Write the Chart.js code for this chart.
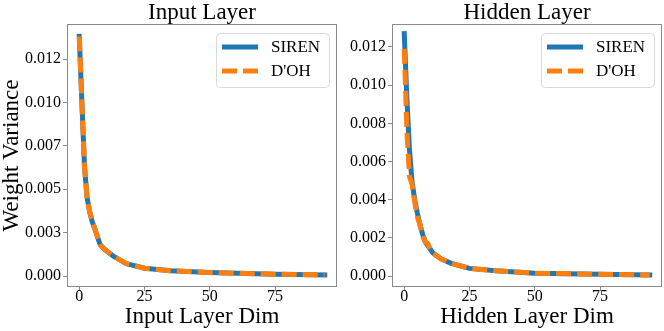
<!DOCTYPE html>
<html lang="en">
<head>
  <meta charset="UTF-8" />
  <title>Weight Variance per Layer</title>
  <script src="https://cdn.jsdelivr.net/npm/chart.js"></script>
  <style>
    body { margin: 0; background: #fff; }
    canvas { position: absolute; top: 0; }
  </style>
</head>
<body>
  <canvas id="inputChart" width="340" height="331" style="left:0"></canvas>
  <canvas id="hiddenChart" width="324" height="331" style="left:340px"></canvas>

  <script>
    // values
    const inputDims   = [0, 1, 2, 3, 4, 5, 6, 8, 10, 13, 18, 25, 35, 50, 75, 94];
    const inputSiren  = [0.0138, 0.0100, 0.0063, 0.0045, 0.0037, 0.0031, 0.0027, 0.0018, 0.0015, 0.00115, 0.00072, 0.00045, 0.00030, 0.00020, 0.00011, 0.00007];
    const inputDoh    = [0.0138, 0.0100, 0.0063, 0.0045, 0.0037, 0.0031, 0.0027, 0.0018, 0.0015, 0.00115, 0.00072, 0.00045, 0.00030, 0.00020, 0.00011, 0.00007];

    const hiddenDims  = [0, 1, 2, 3, 4, 5, 6, 7, 8, 9, 10, 11, 14, 18, 25, 35, 50, 75, 94];
    const hiddenSiren = [0.0127, 0.0093, 0.0066, 0.0049, 0.0040, 0.0033, 0.0027, 0.0022, 0.0018, 0.0016, 0.0014, 0.0012, 0.0009, 0.00066, 0.00040, 0.00027, 0.00015, 0.00009, 0.00005];
    const hiddenDoh   = [0.0119, 0.0076, 0.0052, 0.0048, 0.0039, 0.0031, 0.0027, 0.0021, 0.0018, 0.0017, 0.0014, 0.0012, 0.0009, 0.00066, 0.00040, 0.00027, 0.00015, 0.00009, 0.00005];

    const xTicks = [0, 25, 50, 75];
    const inputYTicks  = [0, 0.0025, 0.005, 0.0075, 0.01, 0.0125];
    const inputYLabels = ['0.000', '0.003', '0.005', '0.007', '0.010', '0.012'];
    const hiddenYTicks  = [0, 0.002, 0.004, 0.006, 0.008, 0.010, 0.012];
    const hiddenYLabels = ['0.000', '0.002', '0.004', '0.006', '0.008', '0.010', '0.012'];

    const serif = 'Liberation Serif';
    const frameColor = '#8a8a8a';

    // box round the plot, legend and title drawn on top of the lines
    const decorations = {
      id: 'decorations',
      afterDraw(chart, args, opts) {
        const { ctx, chartArea: a } = chart;
        ctx.save();
        ctx.strokeStyle = frameColor;
        ctx.lineWidth = 1;
        ctx.strokeRect(a.left + 0.5, a.top + 0.5, a.right - a.left - 1, a.bottom - a.top - 1);

        // legend
        const w = 113, h = 54;
        const bx = a.right - 8 - w, by = a.top + 9;
        ctx.beginPath();
        ctx.roundRect(bx + 0.5, by + 0.5, w, h, 4);
        ctx.fillStyle = 'rgba(255,255,255,0.85)';
        ctx.fill();
        ctx.strokeStyle = '#d9d9d9';
        ctx.stroke();
        chart.data.datasets.forEach((ds, i) => {
          const ly = by + 14 + i * 24;
          ctx.beginPath();
          ctx.strokeStyle = ds.borderColor;
          ctx.lineWidth = ds.borderWidth;
          ctx.setLineDash(ds.borderDash || []);
          ctx.lineCap = 'butt';
          ctx.moveTo(bx + 6, ly);
          ctx.lineTo(bx + 42, ly);
          ctx.stroke();
          ctx.setLineDash([]);
          ctx.fillStyle = '#000';
          ctx.font = '17px "' + serif + '"';
          ctx.textBaseline = 'middle';
          ctx.textAlign = 'left';
          ctx.fillText(ds.label, bx + 55, ly + 1);
        });

        // title centred over the plot
        ctx.font = '23px "' + serif + '"';
        ctx.fillStyle = '#000';
        ctx.textAlign = 'center';
        ctx.textBaseline = 'alphabetic';
        ctx.fillText(opts.text, (a.left + a.right) / 2, 19);
        ctx.restore();
      }
    };

    function makeChart(id, title, xTitle, dims, siren, doh, yMin, yMax, yTicks, yLabels, yWidth, showYTitle, padRight) {
      return new Chart(document.getElementById(id), {
        type: 'line',
        data: {
          datasets: [
            {
              label: 'SIREN',
              data: dims.map((x, i) => ({ x: x, y: siren[i] })),
              borderColor: '#1f77b4',
              borderWidth: 5,
              borderCapStyle: 'square',
              borderJoinStyle: 'round',
              pointRadius: 0,
              order: 1
            },
            {
              label: "D'OH",
              data: dims.map((x, i) => ({ x: x, y: doh[i] })),
              borderColor: '#ff7f0e',
              borderWidth: 5,
              borderDash: [15, 6],
              borderCapStyle: 'butt',
              borderJoinStyle: 'round',
              pointRadius: 0,
              order: 0
            }
          ]
        },
        options: {
          responsive: false,
          animation: false,
          devicePixelRatio: 1,
          layout: { padding: { top: 24, right: padRight, left: 0, bottom: 0 } },
          plugins: {
            legend: { display: false },
            tooltip: { enabled: false },
            decorations: { text: title }
          },
          scales: {
            x: {
              type: 'linear',
              min: -4.7,
              max: 98.7,
              afterBuildTicks: s => { s.ticks = xTicks.map(v => ({ value: v })); },
              afterFit: s => { s.height = 44; },
              grid: { drawOnChartArea: false, drawTicks: true, tickLength: 4, color: frameColor },
              border: { display: false },
              ticks: {
                autoSkip: false,
                maxRotation: 0,
                padding: -2,
                color: '#000',
                font: { family: serif, size: 16, lineHeight: 1 },
                callback: v => String(v)
              },
              title: {
                display: true,
                text: xTitle,
                color: '#000',
                font: { family: serif, size: 23, lineHeight: 1 },
                padding: { top: 0, bottom: 3 }
              }
            },
            y: {
              min: yMin,
              max: yMax,
              afterBuildTicks: s => { s.ticks = yTicks.map(v => ({ value: v })); },
              afterFit: s => { s.width = yWidth; },
              grid: { drawOnChartArea: false, drawTicks: true, tickLength: 4, color: frameColor },
              border: { display: false },
              ticks: {
                autoSkip: false,
                padding: 2,
                color: '#000',
                font: { family: serif, size: 16 },
                callback: (v, i) => yLabels[i]
              },
              title: {
                display: showYTitle,
                text: 'Weight Variance',
                color: '#000',
                font: { family: serif, size: 23, lineHeight: 1 },
                padding: { top: 0, bottom: 0 }
              }
            }
          }
        },
        plugins: [decorations]
      });
    }

    makeChart('inputChart', 'Input Layer', 'Input Layer Dim', inputDims, inputSiren, inputDoh,
      -0.00063, 0.014516, inputYTicks, inputYLabels, 67, true, 3);
    makeChart('hiddenChart', 'Hidden Layer', 'Hidden Layer Dim', hiddenDims, hiddenSiren, hiddenDoh,
      -0.000576, 0.013205, hiddenYTicks, hiddenYLabels, 52, false, 2);
  </script>
</body>
</html>
